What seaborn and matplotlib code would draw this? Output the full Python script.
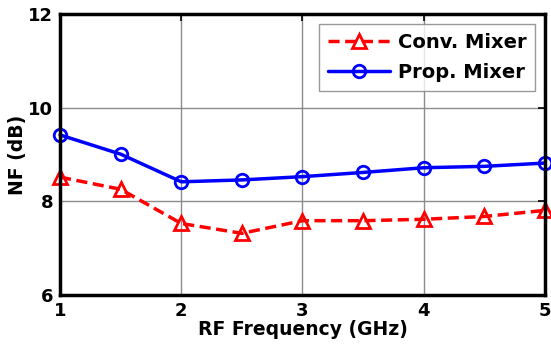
import matplotlib
matplotlib.use("Agg")
import matplotlib.pyplot as plt
import seaborn as sns
import pandas as pd

freq = [1, 1.5, 2, 2.5, 3, 3.5, 4, 4.5, 5]
conv_nf = [8.52, 8.26, 7.53, 7.32, 7.59, 7.59, 7.62, 7.68, 7.81]
prop_nf = [9.42, 9.01, 8.42, 8.46, 8.53, 8.62, 8.72, 8.75, 8.82]
series_names = ["Conv. Mixer", "Prop. Mixer"]
x_ticks = [1, 2, 3, 4, 5]
y_ticks = [6, 8, 10, 12]

sns.set_theme(style="white")
plt.rcParams['font.family'] = ['DejaVu Sans']
plt.rcParams['font.weight'] = 'bold'
plt.rcParams['text.color'] = 'black'
plt.rcParams['axes.labelcolor'] = 'black'

fig = plt.figure(figsize=(5.51, 3.44), dpi=100)
ax = fig.add_axes([0.109, 0.142, 0.880, 0.817])

sns.lineplot(x=freq, y=conv_nf, ax=ax, color="#ff0000", linestyle=(0, (3.2, 1.6)),
             marker="^", markersize=9.5, markerfacecolor="none",
             markeredgecolor="#ff0000", markeredgewidth=2, linewidth=2.5,
             label=series_names[0], clip_on=False)
sns.lineplot(x=freq, y=prop_nf, ax=ax, color="#0000ff", linestyle="-",
             marker="o", markersize=9, markerfacecolor="none",
             markeredgecolor="#0000ff", markeredgewidth=2, linewidth=2.5,
             label=series_names[1], clip_on=False)

ax.set_xlim(1, 5)
ax.set_ylim(6, 12)
ax.set_xticks(x_ticks)
ax.set_yticks(y_ticks)
ax.grid(True, color="#8c8c8c", linewidth=1)
ax.tick_params(direction="in", length=5, width=1.2, top=True, right=True,
               labelsize=13, pad=5, colors="black")
for lab in ax.get_xticklabels() + ax.get_yticklabels():
    lab.set_fontweight("bold")
for s in ax.spines.values():
    s.set_linewidth(2.5)
    s.set_color("black")

ax.set_xlabel("RF Frequency (GHz)", fontsize=13.5, fontweight="bold", labelpad=0, color="black")
ax.set_ylabel("NF (dB)", fontsize=13.5, fontweight="bold", labelpad=1, color="black")

leg = ax.legend(loc="upper right", frameon=True, fancybox=False,
                edgecolor="#808080", handlelength=3.2, handletextpad=0.4,
                labelspacing=0.6, borderaxespad=0.5, borderpad=0.45,
                prop={"weight": "bold", "size": 14})
leg.get_frame().set_linewidth(1)
for t in leg.get_texts():
    t.set_color("black")

fig.savefig("out.png", dpi=100, facecolor="white")
